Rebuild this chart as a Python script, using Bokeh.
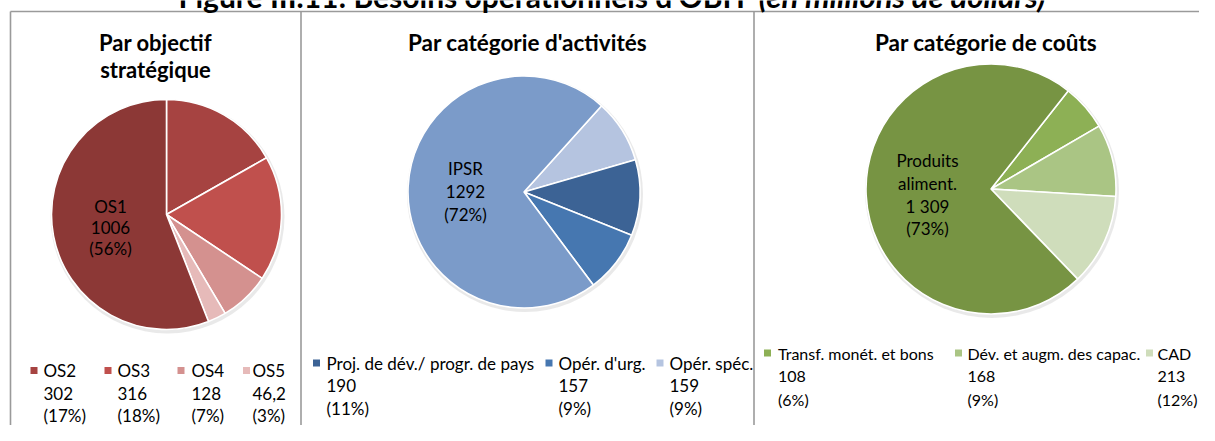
import numpy as np
from bokeh.plotting import figure
from bokeh.models import Range1d
from bokeh.core.properties import value
from bokeh.embed import file_html
from bokeh.resources import INLINE

# ---------------- data ----------------
fig_title_main = "Figure III.11: Besoins opérationnels d'OBIT "
fig_title_unit = "(en millions de dollars)"

os_title = ["Par objectif", "stratégique"]
os_cats = ["OS2", "OS3", "OS4", "OS5", "OS1"]
os_vals = [302, 316, 128, 46.2, 1006]
os_val_txt = ["302", "316", "128", "46,2", "1006"]
os_pct = ["(17%)", "(18%)", "(7%)", "(3%)", "(56%)"]

act_title = ["Par catégorie d'activités"]
act_cats = ["Opér. spéc.", "Proj. de dév./ progr. de pays", "Opér. d'urg.", "IPSR"]
act_vals = [159, 190, 157, 1292]
act_val_txt = ["159", "190", "157", "1292"]
act_pct = ["(9%)", "(11%)", "(9%)", "(72%)"]

cost_title = ["Par catégorie de coûts"]
cost_cats = ["Transf. monét. et bons", "Dév. et augm. des capac.", "CAD", "Produits aliment."]
cost_vals = [108, 168, 213, 1309]
cost_val_txt = ["108", "168", "213", "1 309"]
cost_pct = ["(6%)", "(9%)", "(12%)", "(73%)"]

# ---------------- styles ----------------
os_colors = ["#A64341", "#C0504D", "#D4918F", "#E6BAB9", "#8C3836"]
act_colors = ["#B5C4E0", "#3C6395", "#4677B0", "#7B9BC9"]
cost_colors = ["#8DB055", "#AAC584", "#CFDDBB", "#779443"]

FONT = value("Lato")
W, H = 1199, 425


def X(v):
    return np.asarray(v, float)


def Y(v):
    return H - np.asarray(v, float)


p = figure(width=W, height=H, output_backend="svg", toolbar_location=None,
           x_range=Range1d(0, W), y_range=Range1d(0, H), min_border=0)
p.axis.visible = False
p.grid.visible = False
p.outline_line_color = None
p.background_fill_color = "white"
p.border_fill_color = "white"

# panel borders
bc = "#9A9A9A"
p.segment(x0=X([10, 10, 300.5, 753.5]), y0=Y([11, 11, 11, 11]),
          x1=X([1215, 10, 300.5, 753.5]), y1=Y([11, 441, 441, 441]),
          line_color=bc, line_width=1.6)

# figure title (its upper part lies above the page, as in the source)
p.text(x=X([178]), y=Y([-5]), text=[fig_title_main], text_font=FONT,
       text_font_size="30px", text_font_style="bold", text_baseline="middle",
       text_align="left", text_color="black")
p.text(x=X([1045]), y=Y([-5]), text=[fig_title_unit], text_font=FONT,
       text_font_size="31px", text_font_style="bold italic", text_baseline="middle",
       text_align="right", text_color="black")


def pie(cx, cy, r, vals, colors, start_deg):
    v = np.asarray(vals, float)
    cum = np.concatenate([[0.0], np.cumsum(v / v.sum())]) * 360.0 + start_deg
    sa = np.radians(90.0 - cum[:-1])
    ea = np.radians(90.0 - cum[1:])
    p.circle(x=X([cx + 1]), y=Y([cy + 2]), radius=r + 2, radius_units="screen",
             fill_color="#cfcfcf", fill_alpha=0.45, line_color=None)
    p.wedge(x=X([cx] * len(v)), y=Y([cy] * len(v)), radius=r, radius_units="screen",
            start_angle=sa, end_angle=ea, direction="clock",
            fill_color=colors, line_color="white", line_width=1.6)


def lines_text(x, ys, texts, size="17px", style="normal", align="left"):
    p.text(x=X([x] * len(ys)), y=Y(ys), text=texts, text_font=FONT,
           text_font_size=size, text_font_style=style, text_align=align,
           text_baseline="middle", text_color="black")


def legend(idx, sq_x, txt_x, y0, dy, colors, cats, vtxt, pct, size="17px"):
    p.scatter(x=X(sq_x), y=Y([y0] * len(idx)), marker="square", size=7,
              fill_color=[colors[i] for i in idx], line_color=None)
    for row, arr in enumerate([cats, vtxt, pct]):
        p.text(x=X(txt_x), y=Y([y0 + row * dy] * len(idx)), text=[arr[i] for i in idx],
               text_font=FONT, text_font_size=size, text_align="left",
               text_baseline="middle", text_color="black")


# ---------- panel 1 ----------
lines_text(155, [42, 69], os_title, size="22px", style="bold", align="center")
pie(166, 214, 115, os_vals, os_colors, 0.0)
lines_text(110, [206, 227, 248], [os_cats[4], os_val_txt[4], os_pct[4]], align="center")
legend([0, 1, 2, 3], [33.5, 107.5, 180.5, 246], [43, 117, 191, 252], 370, 22.5,
       os_colors, os_cats, os_val_txt, os_pct)

# ---------- panel 2 ----------
lines_text(527, [42], act_title, size="22.5px", style="bold", align="center")
pie(523.5, 191.5, 116, act_vals, act_colors, 42.0)
lines_text(465, [168, 191, 214], [act_cats[3], act_val_txt[3], act_pct[3]], align="center")
legend([1, 2, 0], [316, 548.5, 659.5], [326, 558, 669], 362.5, 22.5,
       act_colors, act_cats, act_val_txt, act_pct)

# ---------- panel 3 ----------
lines_text(985.5, [42], cost_title, size="22.5px", style="bold", align="center")
pie(990.5, 188.5, 125, cost_vals, cost_colors, 38.2)
big = cost_cats[3].split(" ")
lines_text(927, [160, 183, 206, 228], [big[0], big[1], cost_val_txt[3], cost_pct[3]], align="center")
legend([0, 1, 2], [767, 958, 1149], [777.5, 967, 1157], 352.5, 23,
       cost_colors, cost_cats, cost_val_txt, cost_pct, size="16px")

open("out.html", "w").write(file_html(p, INLINE))
